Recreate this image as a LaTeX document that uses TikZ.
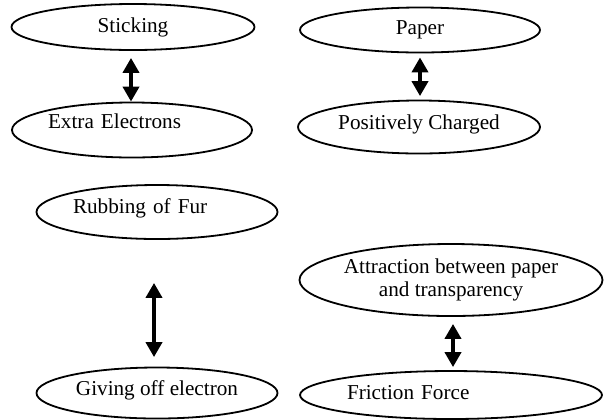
\documentclass[tikz,border=0pt]{standalone}
\usepackage{fontspec}
\setmainfont{Liberation Serif}
\usetikzlibrary{arrows.meta,shapes.geometric}
\begin{document}
\begin{tikzpicture}[x=0.5pt,y=-0.5pt,
  oval/.style={ellipse,draw,line width=0.9pt,inner sep=0pt,font=\fontsize{10.6}{11.5}\selectfont},
  twoway/.style={{Triangle[width=8pt,length=7.5pt]}-{Triangle[width=8pt,length=7.5pt]},line width=2.2pt}]
\useasboundingbox (0,0) rectangle (604,419);
\node[oval,minimum width=121.5pt,minimum height=23pt] (stick) at (133,27) {Sticking};
\node[oval,minimum width=120pt,minimum height=27.5pt,text width=84pt,align=left,text depth=9pt] (extra) at (132,130) {Extra Electrons};
\node[oval,minimum width=120pt,minimum height=22.5pt] (paper) at (420,30) {Paper};
\node[oval,minimum width=121pt,minimum height=26.5pt,text depth=5pt] (pos) at (419,127) {Positively Charged};
\node[oval,minimum width=120.5pt,minimum height=27pt,text width=84pt,align=left,text depth=6pt] (rub) at (157,212) {Rubbing of Fur};
\node[oval,minimum width=120.5pt,minimum height=25.5pt,text depth=5pt] (give) at (157,393) {Giving off electron};
\node[oval,minimum width=151pt,minimum height=36pt,align=center] (attr) at (451,280) {Attraction between paper\\and transparency};
\node[oval,minimum width=151pt,minimum height=24pt,text width=104pt,align=left,text depth=3pt] (fric) at (451,395) {Friction Force};
\draw[twoway,shorten <=3.5pt] ([xshift=-1pt]stick.south) -- ([xshift=-1pt]stick.south |- extra.north);
\draw[twoway,shorten <=2pt,shorten >=1.75pt] (paper.south) -- (paper.south |- pos.north);
\draw[twoway,shorten <=21.5pt,shorten >=4.75pt] ([xshift=-1.5pt]rub.south) -- ([xshift=-1.5pt]rub.south |- give.north);
\draw[twoway,shorten <=3.5pt,shorten >=1.5pt] ([xshift=1pt]attr.south) -- ([xshift=1pt]attr.south |- fric.north);
\end{tikzpicture}
\end{document}
